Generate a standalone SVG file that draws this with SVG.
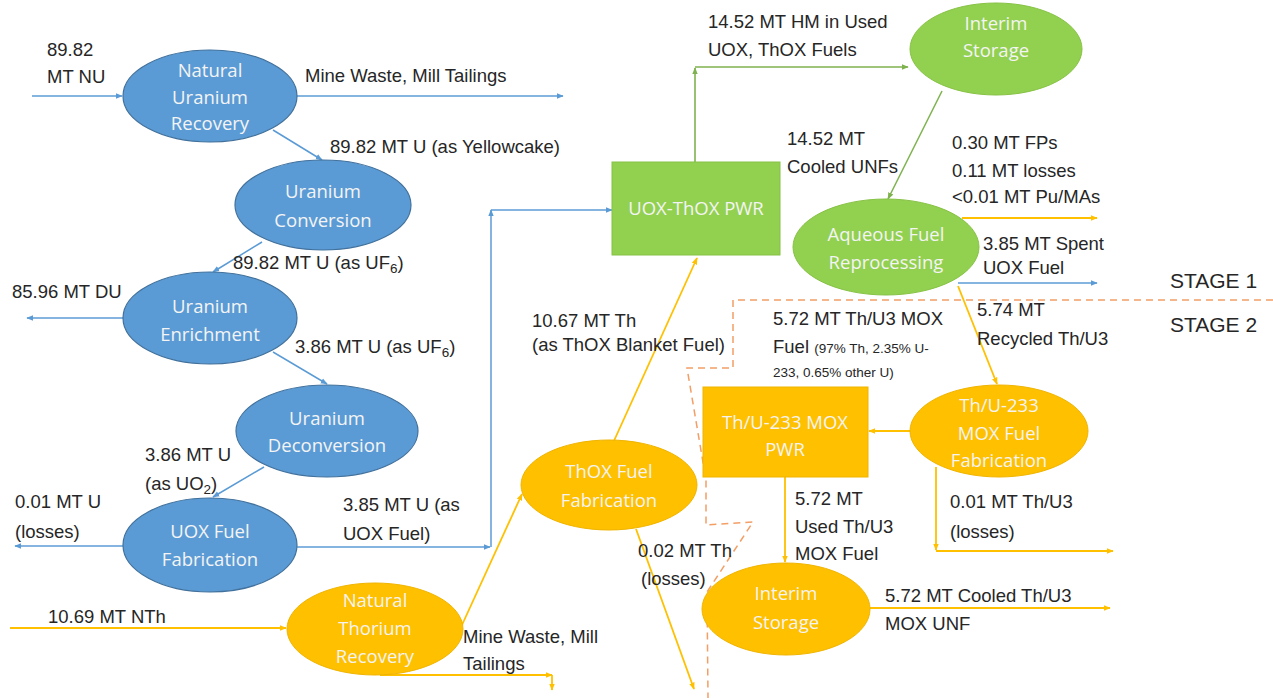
<svg xmlns="http://www.w3.org/2000/svg" width="1273" height="698" viewBox="0 0 1273 698">
<defs>
<style>
.lbl{font-family:"Liberation Sans",Arial,sans-serif;font-size:18.5px;fill:#262626}
.sm{font-size:13.5px}
.stage{font-family:"Liberation Sans",Arial,sans-serif;font-size:21px;fill:#262626}
.nt{font-family:"Open Sans","Liberation Sans",sans-serif;font-size:18.5px;fill:#f4f4f4;text-anchor:middle}
.blue{fill:#5b9bd5;stroke:#41719c;stroke-width:1.2}
.orange{fill:#ffc000;stroke:#f0b400;stroke-width:1}
.green{fill:#92d050;stroke:#86c244;stroke-width:1}
.cb{fill:none;stroke:#5b9bd5;stroke-width:1.5}
.co{fill:none;stroke:#ffc000;stroke-width:1.8}
.cg{fill:none;stroke:#7fb24f;stroke-width:1.6}
.dash{fill:none;stroke:#ed7d31;stroke-opacity:0.75;stroke-width:1.5;stroke-dasharray:7 5}
</style>
<marker id="ab" viewBox="0 0 10 10" refX="9" refY="5" markerWidth="7" markerHeight="7" markerUnits="userSpaceOnUse" orient="auto"><path d="M0,1 L10,5 L0,9 z" fill="#5b9bd5"/></marker>
<marker id="ao" viewBox="0 0 10 10" refX="9" refY="5" markerWidth="7" markerHeight="7" markerUnits="userSpaceOnUse" orient="auto"><path d="M0,1 L10,5 L0,9 z" fill="#ffc000"/></marker>
<marker id="ag" viewBox="0 0 10 10" refX="9" refY="5" markerWidth="7" markerHeight="7" markerUnits="userSpaceOnUse" orient="auto"><path d="M0,1 L10,5 L0,9 z" fill="#7fb24f"/></marker>
</defs>
<rect width="1273" height="698" fill="#ffffff"/>

<g id="connectors">
<line class="cb" x1="32" y1="96" x2="122" y2="96" marker-end="url(#ab)"/>
<line class="cb" x1="297" y1="96" x2="563" y2="96" marker-end="url(#ab)"/>
<line class="cb" x1="273" y1="130" x2="322" y2="160" marker-end="url(#ab)"/>
<line class="cb" x1="262" y1="242" x2="213" y2="272" marker-end="url(#ab)"/>
<line class="cb" x1="123" y1="318" x2="27" y2="318" marker-end="url(#ab)"/>
<line class="cb" x1="273" y1="352" x2="327" y2="384" marker-end="url(#ab)"/>
<line class="cb" x1="264" y1="467" x2="213" y2="497" marker-end="url(#ab)"/>
<line class="cb" x1="123" y1="546" x2="15" y2="546" marker-end="url(#ab)"/>
<line class="cb" x1="297" y1="547" x2="490" y2="547" marker-end="url(#ab)"/>
<line class="cb" x1="491" y1="547" x2="491" y2="210" marker-end="url(#ab)"/>
<line class="cb" x1="491" y1="210" x2="612" y2="210" marker-end="url(#ab)"/>
<line class="cb" x1="958" y1="283" x2="1097" y2="283" marker-end="url(#ab)"/>

<line class="co" x1="10" y1="628" x2="286" y2="628" marker-end="url(#ao)"/>
<line class="co" x1="462" y1="625" x2="522" y2="494" marker-end="url(#ao)"/>
<line class="co" x1="380" y1="675" x2="552" y2="675" marker-end="url(#ao)"/>
<line class="co" x1="552" y1="675" x2="552" y2="690" marker-end="url(#ao)"/>
<line class="co" x1="613" y1="443" x2="697" y2="258" marker-end="url(#ao)"/>
<line class="co" x1="636" y1="529" x2="694" y2="689" marker-end="url(#ao)"/>
<line class="co" x1="785" y1="477" x2="785" y2="562" marker-end="url(#ao)"/>
<line class="co" x1="870" y1="608" x2="1110" y2="608" marker-end="url(#ao)"/>
<line class="co" x1="910" y1="431" x2="869" y2="431" marker-end="url(#ao)"/>
<line class="co" x1="936" y1="467" x2="936" y2="550" marker-end="url(#ao)"/>
<line class="co" x1="936" y1="551" x2="1113" y2="551" marker-end="url(#ao)"/>
<line class="co" x1="958" y1="286" x2="997" y2="384" marker-end="url(#ao)"/>
<line class="co" x1="962" y1="218" x2="1097" y2="218" marker-end="url(#ao)"/>

<line class="cg" x1="695" y1="162" x2="695" y2="68" marker-end="url(#ag)"/>
<line class="cg" x1="695" y1="67" x2="908" y2="67" marker-end="url(#ag)"/>
<line class="cg" x1="942" y1="91" x2="888" y2="199" marker-end="url(#ag)"/>

<path class="dash" d="M1273,300 H733 V368 H687 L706,480 V525 L753,522 L707,592 L708,698"/>
</g>

<g id="natural-uranium-recovery"><ellipse class="blue" cx="210" cy="96" rx="87" ry="46"/><text class="nt" x="210" y="77">Natural</text><text class="nt" x="210" y="104">Uranium</text><text class="nt" x="210" y="130">Recovery</text></g>
<g id="uranium-conversion"><ellipse class="blue" cx="323" cy="205" rx="88" ry="45"/><text class="nt" x="323" y="198">Uranium</text><text class="nt" x="323" y="227">Conversion</text></g>
<g id="uranium-enrichment"><ellipse class="blue" cx="210" cy="318" rx="87" ry="46"/><text class="nt" x="210" y="313">Uranium</text><text class="nt" x="210" y="341">Enrichment</text></g>
<g id="uranium-deconversion"><ellipse class="blue" cx="327" cy="431" rx="91" ry="46"/><text class="nt" x="327" y="425">Uranium</text><text class="nt" x="327" y="452">Deconversion</text></g>
<g id="uox-fuel-fabrication"><ellipse class="blue" cx="210" cy="545" rx="87" ry="47"/><text class="nt" x="210" y="538">UOX Fuel</text><text class="nt" x="210" y="566">Fabrication</text></g>

<g id="natural-thorium-recovery"><ellipse class="orange" cx="375" cy="629" rx="88" ry="46"/><text class="nt" x="375" y="607">Natural</text><text class="nt" x="375" y="635">Thorium</text><text class="nt" x="375" y="663">Recovery</text></g>
<g id="thox-fuel-fabrication"><ellipse class="orange" cx="609" cy="485" rx="88" ry="45"/><text class="nt" x="609" y="478">ThOX Fuel</text><text class="nt" x="609" y="507">Fabrication</text></g>
<g id="thu233-mox-pwr"><rect class="orange" x="703" y="387" width="165" height="90"/><text class="nt" x="785" y="429">Th/U-233 MOX</text><text class="nt" x="785" y="456">PWR</text></g>
<g id="thu233-mox-fuel-fabrication"><ellipse class="orange" cx="999" cy="431" rx="89" ry="46"/><text class="nt" x="999" y="412">Th/U-233</text><text class="nt" x="999" y="440">MOX Fuel</text><text class="nt" x="999" y="467">Fabrication</text></g>
<g id="interim-storage-2"><ellipse class="orange" cx="786" cy="609" rx="84" ry="46"/><text class="nt" x="786" y="600">Interim</text><text class="nt" x="786" y="629">Storage</text></g>

<g id="uox-thox-pwr"><rect class="green" x="612" y="162" width="168" height="93"/><text class="nt" x="696" y="215">UOX-ThOX PWR</text></g>
<g id="interim-storage-1"><ellipse class="green" cx="996" cy="49" rx="86" ry="46"/><text class="nt" x="996" y="30">Interim</text><text class="nt" x="996" y="57">Storage</text></g>
<g id="aqueous-fuel-reprocessing"><ellipse class="green" cx="886" cy="247" rx="93" ry="48"/><text class="nt" x="886" y="241">Aqueous Fuel</text><text class="nt" x="886" y="269">Reprocessing</text></g>

<g id="labels">
<text class="lbl" x="47" y="56">89.82</text><text class="lbl" x="47" y="83">MT NU</text>
<text class="lbl" x="305" y="82">Mine Waste, Mill Tailings</text>
<text class="lbl" x="330" y="153">89.82 MT U (as Yellowcake)</text>
<text class="lbl" x="233" y="269">89.82 MT U (as UF<tspan class="sm" dy="4">6</tspan><tspan dy="-4">)</tspan></text>
<text class="lbl" x="12" y="298">85.96 MT DU</text>
<text class="lbl" x="295" y="353">3.86 MT U (as UF<tspan class="sm" dy="4">6</tspan><tspan dy="-4">)</tspan></text>
<text class="lbl" x="145" y="461">3.86 MT U</text><text class="lbl" x="145" y="490">(as UO<tspan class="sm" dy="4">2</tspan><tspan dy="-4">)</tspan></text>
<text class="lbl" x="15" y="508">0.01 MT U</text><text class="lbl" x="15" y="538">(losses)</text>
<text class="lbl" x="343" y="511">3.85 MT U (as</text><text class="lbl" x="343" y="540">UOX Fuel)</text>
<text class="lbl" x="48" y="623">10.69 MT NTh</text>
<text class="lbl" x="463" y="643">Mine Waste, Mill</text><text class="lbl" x="463" y="670">Tailings</text>
<text class="lbl" x="532" y="327">10.67 MT Th</text><text class="lbl" x="532" y="351">(as ThOX Blanket Fuel)</text>
<text class="lbl" x="638" y="557">0.02 MT Th</text><text class="lbl" x="641" y="585">(losses)</text>
<text class="lbl" x="795" y="505">5.72 MT</text><text class="lbl" x="795" y="533">Used Th/U3</text><text class="lbl" x="795" y="560">MOX Fuel</text>
<text class="lbl" x="885" y="602">5.72 MT Cooled Th/U3</text><text class="lbl" x="885" y="630">MOX UNF</text>
<text class="lbl" x="950" y="508">0.01 MT Th/U3</text><text class="lbl" x="950" y="538">(losses)</text>
<text class="lbl" x="773" y="325">5.72 MT Th/U3 MOX</text>
<text class="lbl" x="773" y="353">Fuel <tspan class="sm">(97% Th, 2.35% U-</tspan></text>
<text class="lbl sm" x="773" y="377">233, 0.65% other U)</text>
<text class="lbl" x="977" y="316">5.74 MT</text><text class="lbl" x="977" y="345">Recycled Th/U3</text>
<text class="lbl" x="952" y="149">0.30 MT FPs</text><text class="lbl" x="952" y="177">0.11 MT losses</text><text class="lbl" x="952" y="203">&lt;0.01 MT Pu/MAs</text>
<text class="lbl" x="983" y="250">3.85 MT Spent</text><text class="lbl" x="983" y="274">UOX Fuel</text>
<text class="lbl" x="708" y="28">14.52 MT HM in Used</text><text class="lbl" x="708" y="56">UOX, ThOX Fuels</text>
<text class="lbl" x="787" y="145">14.52 MT</text><text class="lbl" x="787" y="173">Cooled UNFs</text>
<text class="stage" x="1170" y="288">STAGE 1</text><text class="stage" x="1170" y="332">STAGE 2</text>
</g>
</svg>
